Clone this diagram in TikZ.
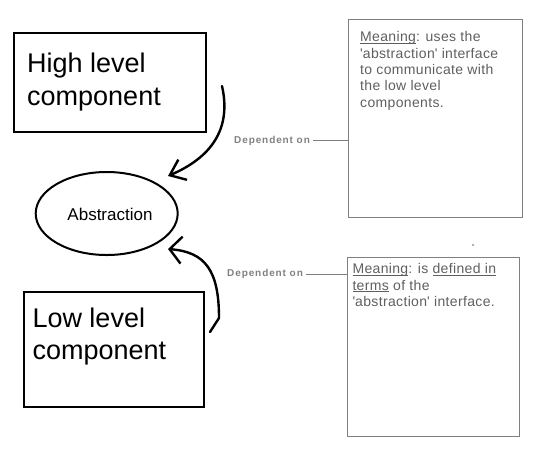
\documentclass[tikz,border=0pt]{standalone}
\usepackage{fontspec}
\setmainfont{Liberation Sans}
\usepackage{xcolor}
\usepackage{tikz}
\usetikzlibrary{
  positioning,
  calc,
  arrows.meta,
  shapes.geometric
}
\definecolor{notegray}{RGB}{95,95,95}
\definecolor{framegray}{RGB}{128,128,128}
\newcommand{\ulword}[1]{\underline{\smash{#1}}}

\begin{document}
\begin{tikzpicture}[x=1pt,y=-1pt,
  box/.style={draw,line width=2.2pt,inner sep=0pt},
  note/.style={draw=framegray,line width=1.5pt,inner sep=0pt},
  bigtext/.style={inner sep=0pt,anchor=north west,align=left,
    font=\fontsize{27}{32.5}\selectfont},
  notetext/.style={inner sep=0pt,anchor=north west,align=left,text=notegray,
    font=\fontsize{14}{16.3}\selectfont\addfontfeatures{LetterSpace=2.5}},
  deptext/.style={inner sep=0pt,anchor=base west,text=framegray,
    font=\fontsize{10}{12}\selectfont\bfseries\addfontfeatures{LetterSpace=9}},
  hand/.style={line width=2.4pt,line cap=round,line join=round}
]
  \useasboundingbox (0,0) rectangle (540,459);

  % 枠の定義
  \node[box,minimum width=192pt,minimum height=99pt] (high) at (110,82.5) {};
  \node[box,minimum width=180pt,minimum height=115pt] (low) at (114,349.5) {};
  \node[draw,ellipse,line width=2pt,inner sep=0pt,minimum width=142pt,minimum height=83pt] (abs) at (106.7,213.5) {};
  \node[font=\fontsize{17}{18}\selectfont] (abstxt) at (110,214) {Abstraction};
  \node[note,minimum width=174pt,minimum height=198pt] (usenote) at (435.3,118.3) {};
  \node[note,minimum width=171.6pt,minimum height=179pt] (defnote) at (433.5,347.2) {};

  % 文字
  \node[bigtext] (hightxt) at (27,53) {High level\\component};
  \node[bigtext] (lowtxt) at (32.3,307.3) {Low level\\component};
  \node[notetext] (usetxt) at (360,31.5) {\ulword{Meaning}: uses the\\
    \textquotesingle abstraction\textquotesingle{} interface\\to communicate with\\
    the low level\\components.};
  \node[notetext] (deftxt) at (352.3,263.5) {\ulword{Meaning}: is \ulword{defined in}\\
    \ulword{terms} of the\\\textquotesingle abstraction\textquotesingle{} interface.};
  \node[deptext] (dep1) at (234,143.3) {Dependent on};
  \node[deptext] (dep2) at (227,276.7) {Dependent on};

  % 注釈への線
  \draw[framegray,line width=1.2pt] ([xshift=3pt]dep1.east) -- (dep1.east -| usenote.west);
  \draw[framegray,line width=1.2pt] ([xshift=3pt]dep2.east) -- (dep2.east -| defnote.west);

  % 依存の矢印
  \coordinate (hightail) at (222,86);
  \coordinate (hightip) at (168,176);
  \draw[hand,-{Straight Barb[length=14pt,width=22pt]}]
    (hightail) .. controls (232,130) and (210,158) .. (hightip);
  \coordinate (lowtail) at (210,332);
  \coordinate (lowtip) at (168,249);
  \draw[hand,-{Straight Barb[length=12pt,width=27pt]}]
    (lowtail) -- (219,318) .. controls (219,270) and (205,252) .. (lowtip);

  \fill[notegray] (473,245) circle (0.8pt);
\end{tikzpicture}
\end{document}
